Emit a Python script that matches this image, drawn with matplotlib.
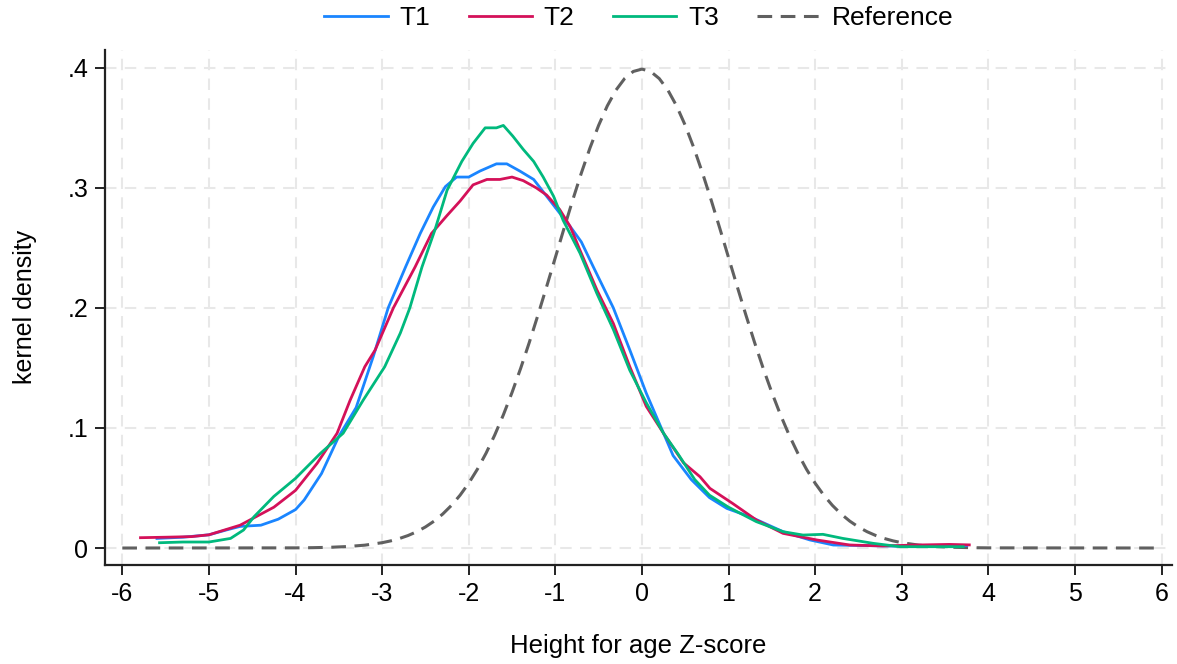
import numpy as np
import matplotlib
matplotlib.use("Agg")
import matplotlib.pyplot as plt
from matplotlib.ticker import FixedLocator, FixedFormatter

plt.rcParams['font.family'] = ['Liberation Sans', 'DejaVu Sans']
plt.rcParams['axes.unicode_minus'] = False

# kernel density estimates of height-for-age z-scores, by round
t1_x = [-5.6, -5.3, -5.0, -4.8, -4.64, -4.4, -4.2, -4.0, -3.9, -3.7, -3.5, -3.3, -3.1, -2.93,
        -2.73, -2.56, -2.41, -2.27, -2.14, -2.0, -1.87, -1.68, -1.56, -1.41, -1.25, -1.10,
        -0.95, -0.81, -0.7, -0.56, -0.33, -0.14, 0.05, 0.25, 0.36, 0.57, 0.78, 0.98, 1.25,
        1.63, 1.94, 2.21, 2.6, 3.0, 3.4, 3.75]
t1_y = [0.008, 0.009, 0.011, 0.015, 0.018, 0.019, 0.024, 0.032, 0.040, 0.062, 0.093, 0.117,
        0.160, 0.200, 0.234, 0.262, 0.284, 0.301, 0.309, 0.309, 0.314, 0.320, 0.320, 0.314,
        0.307, 0.293, 0.279, 0.266, 0.255, 0.234, 0.200, 0.165, 0.129, 0.0955, 0.077, 0.057,
        0.042, 0.033, 0.026, 0.0136, 0.0067, 0.0025, 0.002, 0.0015, 0.002, 0.002]

t2_x = [-5.79, -5.5, -5.2, -5.0, -4.64, -4.25, -4.0, -3.75, -3.52, -3.37, -3.2, -3.08, -2.87,
        -2.62, -2.43, -2.25, -2.10, -1.95, -1.79, -1.64, -1.50, -1.37, -1.22, -1.10, -0.95,
        -0.83, -0.715, -0.52, -0.33, -0.14, 0.05, 0.25, 0.48, 0.67, 0.785, 1.05, 1.32, 1.63,
        2.02, 2.40, 2.78, 3.17, 3.55, 3.78]
t2_y = [0.0086, 0.009, 0.0095, 0.011, 0.019, 0.034, 0.048, 0.0706, 0.0956, 0.123, 0.151,
        0.165, 0.200, 0.234, 0.262, 0.277, 0.289, 0.3025, 0.307, 0.307, 0.309, 0.306, 0.300,
        0.294, 0.282, 0.268, 0.248, 0.215, 0.187, 0.151, 0.118, 0.0955, 0.071, 0.0594,
        0.0497, 0.037, 0.0234, 0.0122, 0.0067, 0.0025, 0.0017, 0.0025, 0.003, 0.0026]

t3_x = [-5.57, -5.3, -5.0, -4.75, -4.6, -4.48, -4.25, -4.0, -3.71, -3.45, -3.22, -2.97, -2.79,
        -2.68, -2.54, -2.39, -2.25, -2.08, -1.95, -1.81, -1.68, -1.60, -1.49, -1.37, -1.25,
        -1.14, -1.02, -0.91, -0.715, -0.52, -0.33, -0.14, 0.05, 0.25, 0.42, 0.61, 0.78, 1.0,
        1.32, 1.63, 1.86, 2.09, 2.32, 2.67, 2.98, 3.28, 3.71]
t3_y = [0.0044, 0.005, 0.005, 0.008, 0.015, 0.026, 0.043, 0.058, 0.079, 0.0956, 0.123, 0.151,
        0.179, 0.200, 0.234, 0.265, 0.298, 0.322, 0.337, 0.350, 0.350, 0.352, 0.343, 0.332,
        0.322, 0.309, 0.293, 0.273, 0.2456, 0.212, 0.182, 0.148, 0.121, 0.0955, 0.078, 0.057,
        0.044, 0.034, 0.022, 0.0136, 0.0108, 0.0114, 0.008, 0.0039, 0.0011, 0.0011, 0.0011]

# standard normal reference density, right half (mirrored below)
ref_half_x = [0.0, 0.1, 0.2, 0.3, 0.4, 0.5, 0.6, 0.7, 0.8, 0.9, 1.0, 1.1, 1.2, 1.3, 1.4,
              1.5, 1.6, 1.7, 1.8, 1.9, 2.0, 2.1, 2.2, 2.3, 2.4, 2.5, 2.6, 2.7, 2.8, 2.9,
              3.0, 3.2, 3.4, 3.6, 3.8, 4.0, 6.0]
ref_half_y = [0.39894, 0.39695, 0.39104, 0.38139, 0.36827, 0.35207, 0.33322, 0.31225,
              0.28969, 0.26609, 0.24197, 0.21785, 0.19419, 0.17137, 0.14973, 0.12952,
              0.11092, 0.09405, 0.07895, 0.06562, 0.05399, 0.04398, 0.03547, 0.02833,
              0.02239, 0.01753, 0.01358, 0.01042, 0.00792, 0.00595, 0.00443, 0.00238,
              0.00123, 0.00061, 0.00029, 0.00013, 0.0]

series = ['T1', 'T2', 'T3']
colors = ['#1a85ff', '#d41159', '#00b97d']

x_ticks = list(range(-6, 7))
y_ticks = [0, 0.1, 0.2, 0.3, 0.4]
y_labels = ['0', '.1', '.2', '.3', '.4']

ref_x = np.r_[-np.array(ref_half_x[::-1]), np.array(ref_half_x[1:])]
ref_y = np.r_[np.array(ref_half_y[::-1]), np.array(ref_half_y[1:])]

fig = plt.figure(figsize=(11.77, 6.64), dpi=100)
ax = fig.add_axes([0.0892, 0.149, 0.9065, 0.776])

for name, xs, ys, c in zip(series, [t1_x, t2_x, t3_x], [t1_y, t2_y, t3_y], colors):
    ax.plot(xs, ys, color=c, lw=2.0, label=name, zorder=3)
ax.plot(ref_x, ref_y, color='#606060', lw=2.2, ls=(0, (4.8, 2.8)), label='Reference', zorder=2)

ax.set_xlim(-6.2, 6.12)
ax.set_ylim(-0.0142, 0.415)
ax.xaxis.set_major_locator(FixedLocator(x_ticks))
ax.yaxis.set_major_locator(FixedLocator(y_ticks))
ax.yaxis.set_major_formatter(FixedFormatter(y_labels))

ax.grid(True, color='#e8e8e8', lw=1.5, ls=(0, (5.5, 4)), zorder=0)
ax.set_axisbelow(True)

for s in ['top', 'right']:
    ax.spines[s].set_visible(False)
for s in ['left', 'bottom']:
    ax.spines[s].set_linewidth(1.6)
    ax.spines[s].set_color('#222222')

ax.tick_params(axis='both', labelsize=18, length=7, width=1.4, color='#222222', pad=5)
ax.set_xlabel('Height for age Z-score', fontsize=18.5, labelpad=20)
ax.set_ylabel('kernel density', fontsize=18, labelpad=22)

fig.legend(loc='center', bbox_to_anchor=(0.543, 1 - 18 / 664), ncol=4, frameon=False,
           fontsize=19, handlelength=2.4, handletextpad=0.45, columnspacing=1.45)

fig.savefig('out.png', dpi=100)
